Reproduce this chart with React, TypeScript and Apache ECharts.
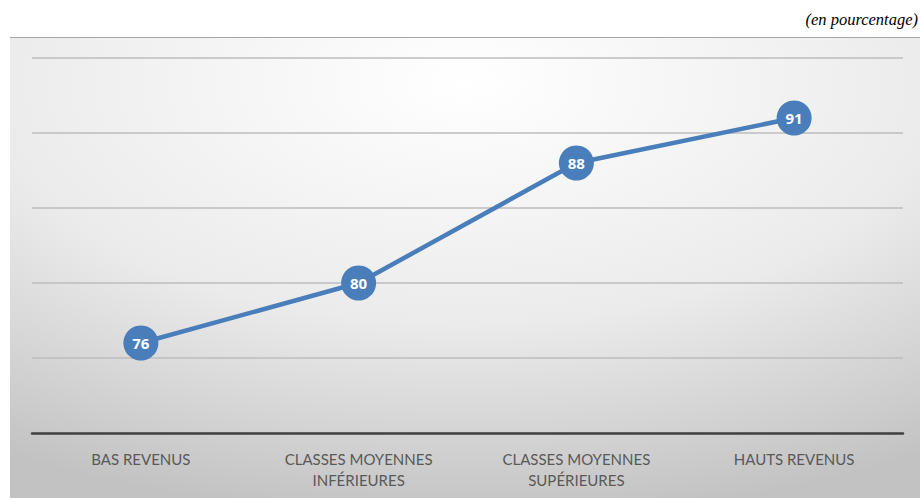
import React, { useEffect, useRef } from "react";
import * as echarts from "echarts";

const categories = ["BAS REVENUS", "CLASSES MOYENNES\nINFÉRIEURES", "CLASSES MOYENNES\nSUPÉRIEURES", "HAUTS REVENUS"];
const values = [76, 80, 88, 91];
const unitLabel = "(en pourcentage)";

export default function App() {
  const ref = useRef<HTMLDivElement>(null);
  useEffect(() => {
    document.body.style.margin = "0";
    const chart = echarts.init(ref.current!, null, { renderer: "svg" });
    chart.setOption({
      animation: false,
      backgroundColor: "#ffffff",
      graphic: [
        {
          type: "rect",
          z: -10,
          silent: true,
          shape: { x: 10, y: 37, width: 910, height: 461 },
          style: {
            fill: new echarts.graphic.RadialGradient(0.5, 0.1, 0.95, [
              { offset: 0, color: "#ffffff" },
              { offset: 0.55, color: "#ebebeb" },
              { offset: 1, color: "#c2c2c2" },
            ]),
          },
        },
        {
          type: "line",
          z: -9,
          silent: true,
          shape: { x1: 10, y1: 37.5, x2: 920, y2: 37.5 },
          style: { stroke: "#a6a6a6", lineWidth: 1 },
        },
        {
          type: "text",
          right: 2,
          top: 11,
          style: {
            text: unitLabel,
            font: "italic 16.5px 'Liberation Serif', 'Times New Roman', serif",
            fill: "#000000",
          },
        },
      ],
      grid: { left: 32, right: 17, top: 58, bottom: 65 },
      xAxis: {
        type: "category",
        data: categories,
        axisLine: { lineStyle: { color: "#404040", width: 2.5 } },
        axisTick: { show: false },
        axisLabel: {
          color: "#595959",
          fontSize: 15,
          fontFamily: "Lato, 'Open Sans', sans-serif",
          lineHeight: 21,
          margin: 15,
        },
      },
      yAxis: {
        type: "value",
        min: 70,
        max: 95,
        interval: 5,
        axisLabel: { show: false },
        axisLine: { show: false },
        axisTick: { show: false },
        splitLine: { lineStyle: { color: "#bdbdbd", width: 1.5 } },
      },
      series: [
        {
          type: "line",
          data: values,
          symbol: "circle",
          symbolSize: 35,
          lineStyle: { color: "#4a7ebb", width: 4.5 },
          itemStyle: { color: "#4a7ebb" },
          label: {
            show: true,
            position: "inside",
            color: "#ffffff",
            fontSize: 15,
            fontWeight: "bold",
            fontFamily: "'Open Sans', Lato, sans-serif",
          },
        },
      ],
    });
    return () => chart.dispose();
  }, []);
  return <div ref={ref} style={{ width: 920, height: 498 }} />;
}
